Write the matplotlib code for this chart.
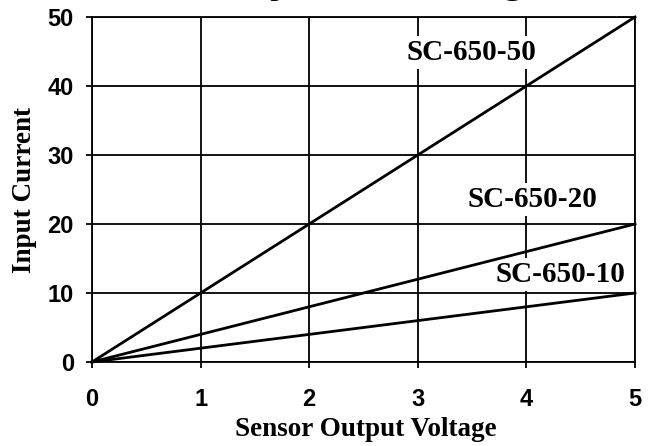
import matplotlib
matplotlib.use("Agg")
import matplotlib.pyplot as plt
import numpy as np

# sensor output voltage vs input current for three models
voltage = [0, 1, 2, 3, 4, 5]
sc_650_50 = [0, 10, 20, 30, 40, 50]
sc_650_20 = [0, 4, 8, 12, 16, 20]
sc_650_10 = [0, 2, 4, 6, 8, 10]
model_names = ["SC-650-50", "SC-650-20", "SC-650-10"]
label_pos = [(3.49, 44.9), (4.06, 23.5), (4.31, 12.7)]

x_ticks = [0, 1, 2, 3, 4, 5]
y_ticks = [0, 10, 20, 30, 40, 50]

fig = plt.figure(figsize=(6.49, 4.46), dpi=100)
ax = fig.add_axes([92 / 649, 1 - 362 / 446, 543 / 649, 345 / 446])

for series in [sc_650_50, sc_650_20, sc_650_10]:
    ax.plot(voltage, series, color="black", lw=2, zorder=4.6, clip_on=False)

# labels sit on a white patch that hides the vertical grid lines
for name, (px, py) in zip(model_names, label_pos):
    ax.text(px, py, name, ha="center", va="center", fontsize=21,
            fontweight="bold", family="Liberation Serif", zorder=4,
            bbox=dict(boxstyle="square,pad=0.1", fc="white", ec="none"))

ax.set_xlim(0, 5)
ax.set_ylim(0, 50)
ax.set_xticks(x_ticks)
ax.set_yticks(y_ticks)
ax.grid(True, axis="x", color="black", lw=1.3)
ax.set_axisbelow(True)
for yv in y_ticks:
    ax.axhline(yv, color="black", lw=1.3, zorder=4.5)
for s in ax.spines.values():
    s.set_linewidth(1.3)
    s.set_zorder(5)
ax.tick_params(direction="out", length=4, width=1.3, labelsize=17)
ax.xaxis.set_tick_params(pad=15)
ax.yaxis.set_tick_params(pad=9)
for lbl in ax.get_xticklabels() + ax.get_yticklabels():
    lbl.set_fontweight("bold")
    lbl.set_family("Liberation Sans")

ax.set_xlabel("Sensor Output Voltage", fontsize=19.5, fontweight="bold",
              family="Liberation Serif", va="center")
ax.set_ylabel("Input Current", fontsize=19.5, fontweight="bold",
              family="Liberation Serif", va="center")
ax.xaxis.set_label_coords(0.505, -0.197)
ax.yaxis.set_label_coords(-0.125, 0.499)

# title is cut off at the top of the original image
fig.text(0.472, 1 + 9 / 446, "Sensitivity vs. Voltage", ha="center",
         va="baseline", fontsize=34, fontweight="bold", family="Liberation Sans")

fig.savefig("out.png", dpi=100)
